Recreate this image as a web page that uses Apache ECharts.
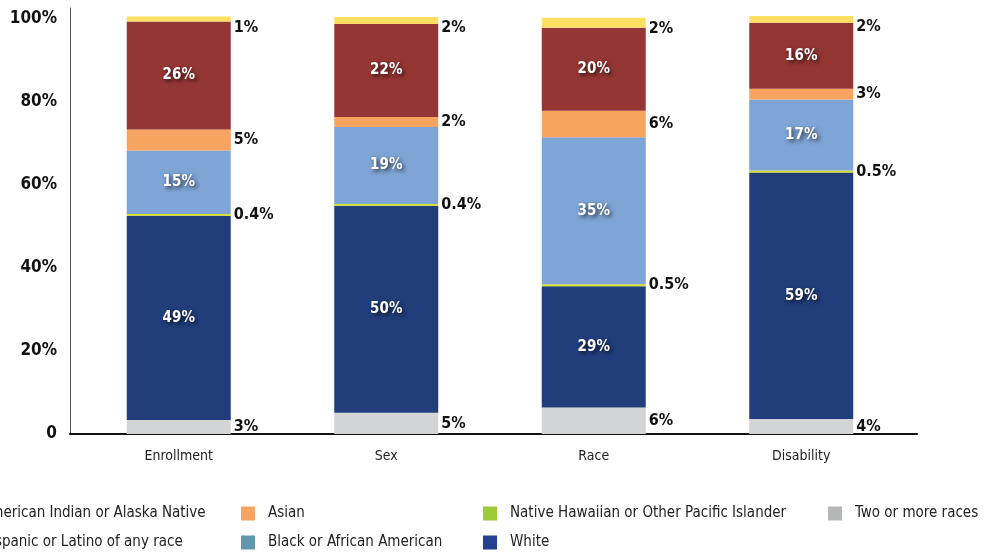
<!doctype html>
<html>
<head>
    <meta charset="utf-8">
    <title>Stacked shares</title>
    <style>
        html, body { margin: 0; padding: 0; background: #fff; }
        #chart { width: 985px; height: 554px; }
    </style>
</head>
<body>
    <div id="chart"></div>
</body>
</html>
<script type="text/javascript" src="https://cdn.jsdelivr.net/npm/echarts@6/dist/echarts.min.js"></script>
<script type="text/javascript">
    // categories on the x axis
    var categories = ['Enrollment', 'Sex', 'Race', 'Disability'];
    var yTicks = [0, 20, 40, 60, 80, 100];

    // shares in percent, per group
    var twoOrMore = [3.4, 5.1, 6.4, 3.6];
    var white = [49.2, 49.9, 29.2, 59.4];
    var nativeHawaiian = [0.4, 0.4, 0.5, 0.5];
    var black = [15.3, 18.6, 35.4, 17.1];
    var asian = [5.1, 2.4, 6.4, 2.6];
    var hispanic = [26.0, 22.4, 20.0, 15.9];
    var americanIndian = [1.2, 1.7, 2.4, 1.6];

    var font = "'Liberation Sans Narrow', 'DejaVu Sans Condensed', 'Noto Sans', sans-serif";

    function pct(p) {
        var v = p.value;
        return (v < 1 ? v.toFixed(1) : Math.round(v)) + '%';
    }

    var insideLabel = {
        show: true,
        position: 'inside',
        formatter: pct,
        color: '#fff',
        fontFamily: font,
        fontWeight: 'bold',
        fontSize: 15,
        textShadowColor: 'rgba(0,0,0,0.75)',
        textShadowBlur: 4,
        textShadowOffsetX: 2,
        textShadowOffsetY: 2
    };
    var outsideLabel = {
        show: true,
        position: 'right',
        distance: 3,
        formatter: pct,
        color: '#111',
        fontFamily: font,
        fontWeight: 'bold',
        fontSize: 16
    };
    var topLabel = {
        show: true,
        position: ['100%', 0],
        offset: [3, 3],
        align: 'left',
        verticalAlign: 'top',
        formatter: pct,
        color: '#111',
        fontFamily: font,
        fontWeight: 'bold',
        fontSize: 16
    };

    function bar(name, data, color, label) {
        return {
            name: name,
            type: 'bar',
            stack: 'all',
            barWidth: 104,
            data: data,
            itemStyle: { color: color },
            label: label,
            silent: true
        };
    }

    function legendCol(left, items) {
        return {
            left: left,
            top: 506,
            orient: 'vertical',
            padding: 0,
            itemWidth: 14,
            itemHeight: 14,
            itemGap: 14,
            icon: 'rect',
            textStyle: { fontSize: 15, color: '#222', fontFamily: font, padding: [0, 0, 0, 8] },
            data: items
        };
    }

    var yMax = 102.65;

    var myChart = echarts.init(document.getElementById('chart'));
    var option = {
        animation: false,
        textStyle: { fontFamily: font },
        grid: [
            { left: 75, right: 80, top: 8, bottom: 120 },
            { left: 70, right: 68, top: 8, bottom: 120 }
        ],
        xAxis: [{
            type: 'category',
            gridIndex: 0,
            data: categories,
            axisLine: { show: false },
            axisTick: { show: false },
            axisLabel: { color: '#222', fontSize: 14, fontFamily: font, margin: 15 }
        }, {
            type: 'category',
            gridIndex: 1,
            data: categories,
            axisLine: { lineStyle: { color: '#111', width: 2 } },
            axisTick: { show: false },
            axisLabel: { show: false }
        }],
        yAxis: [{
            type: 'value',
            gridIndex: 0,
            min: 0,
            max: yMax,
            interval: 20,
            show: false,
            splitLine: { show: false }
        }, {
            type: 'value',
            gridIndex: 1,
            min: 0,
            max: yMax,
            interval: 20,
            axisLine: { show: true, lineStyle: { color: '#555', width: 1 } },
            axisTick: { show: false },
            splitLine: { show: false },
            axisLabel: {
                color: '#111',
                fontFamily: font,
                fontWeight: 'bold',
                fontSize: 17,
                margin: 13,
                showMaxLabel: false,
                formatter: function(v) {
                    if (yTicks.indexOf(v) < 0) return '';
                    return v === 0 ? '0' : v + '%';
                }
            }
        }],
        legend: [
            legendCol(-46, [
                { name: 'American Indian or Alaska Native', itemStyle: { color: '#FFDF62' } },
                { name: 'Hispanic or Latino of any race', itemStyle: { color: '#943634' } }
            ]),
            legendCol(241, [
                { name: 'Asian', itemStyle: { color: '#F8A461' } },
                { name: 'Black or African American', itemStyle: { color: '#5F97AE' } }
            ]),
            legendCol(483, [
                { name: 'Native Hawaiian or Other Pacific Islander', itemStyle: { color: '#9DCB3B' } },
                { name: 'White', itemStyle: { color: '#22418F' } }
            ]),
            legendCol(828, [
                { name: 'Two or more races', itemStyle: { color: '#B5B6B8' } }
            ])
        ],
        series: [
            bar('Two or more races', twoOrMore, '#D3D4D6', outsideLabel),
            bar('White', white, '#213E7B', insideLabel),
            bar('Native Hawaiian or Other Pacific Islander', nativeHawaiian, '#D6E023', outsideLabel),
            bar('Black or African American', black, '#7FA4D6', insideLabel),
            bar('Asian', asian, '#F8A461', outsideLabel),
            bar('Hispanic or Latino of any race', hispanic, '#943634', insideLabel),
            bar('American Indian or Alaska Native', americanIndian, '#FFDF62', topLabel)
        ]
    };
    myChart.setOption(option);
</script>
